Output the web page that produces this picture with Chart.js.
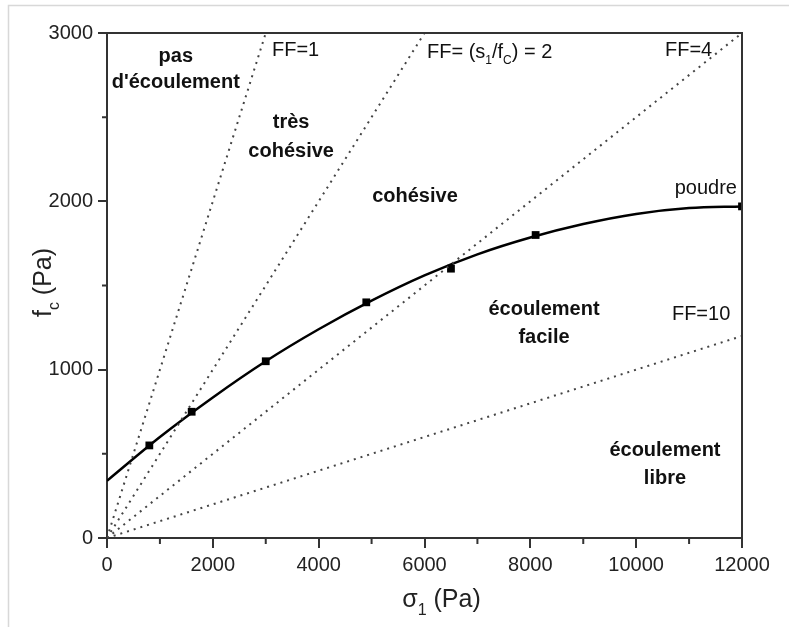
<!DOCTYPE html>
<html>
<head>
<meta charset="utf-8">
<script src="https://cdn.jsdelivr.net/npm/chart.js@4/dist/chart.umd.min.js"></script>
<style>
  html, body { margin: 0; padding: 0; background: #fff; }
  #wrap { width: 789px; height: 627px; position: relative; }
</style>
</head>
<body>
<div id="wrap"><canvas id="c" width="789" height="627"></canvas></div>
<script>
// Measured points (sigma1, fc)
const sigma1 = [800, 1600, 3000, 4900, 6500, 8100, 12000];
const fcMeasured = [550, 750, 1050, 1400, 1600, 1800, 1970];
// Fitted curve
const fitSigma = [0, 1000, 2000, 3000, 4000, 5000, 6000, 7000, 8000, 9000, 10000, 11000, 12000];
const fitFc = [340, 600, 835, 1050, 1240, 1410, 1560, 1685, 1785, 1865, 1925, 1960, 1970];
// Flow-factor lines: start at origin, end points
const ffLabels = ['FF=1', 'FF=2', 'FF=4', 'FF=10'];
const ffEndSigma = [3000, 6000, 12000, 12000];
const ffEndFc = [3000, 3000, 3000, 1200];
// Axis ranges / ticks
const xTickStep = 2000, xMinorStep = 1000, xMax = 12000;
const yTickStep = 1000, yMinorStep = 500, yMax = 3000;

const FONT = '"Liberation Sans", Arial, Helvetica, sans-serif';

const datasets = [];
ffLabels.forEach((lab, i) => {
  datasets.push({
    label: lab,
    data: [{x: 0, y: 0}, {x: ffEndSigma[i], y: ffEndFc[i]}],
    showLine: true,
    borderColor: '#444',
    borderWidth: 2,
    borderDash: [2, 5],
    pointRadius: 0,
    fill: false
  });
});
datasets.push({
  label: 'fit',
  data: fitSigma.map((s, i) => ({x: s, y: fitFc[i]})),
  showLine: true,
  borderColor: '#000',
  borderWidth: 2.5,
  pointRadius: 0,
  cubicInterpolationMode: 'monotone',
  fill: false
});
datasets.push({
  label: 'mesures',
  data: sigma1.map((s, i) => ({x: s, y: fcMeasured[i]})),
  showLine: false,
  pointStyle: 'rect',
  pointRadius: 5.5,
  backgroundColor: '#000',
  borderColor: '#000',
  borderWidth: 0
});

// Text annotations anchored in data coordinates
const notes = [
  {lines: ['pas', "d'écoulement"], x: 1300, y: [2858, 2709], bold: true, align: 'center'},
  {lines: ['très', 'cohésive'], x: 3480, y: [2466, 2294], bold: true, align: 'center'},
  {lines: ['cohésive'], x: 5820, y: [2026], bold: true, align: 'center'},
  {lines: ['écoulement', 'facile'], x: 8258, y: [1355, 1194], bold: true, align: 'center'},
  {lines: ['écoulement', 'libre'], x: 10544, y: [517, 351], bold: true, align: 'center'},
  {lines: ['poudre'], x: 11905, y: [2074], bold: false, align: 'right'},
  {lines: ['FF=1'], x: 3118, y: [2894], bold: false, align: 'left'},
  {lines: ['FF=4'], x: 10544, y: [2894], bold: false, align: 'left'},
  {lines: ['FF=10'], x: 10676, y: [1325], bold: false, align: 'left'}
];

function drawRich(ctx, parts, x, yMid, size, align) {
  const subSize = Math.round(size * 0.62);
  let w = 0;
  parts.forEach(p => {
    ctx.font = (p.sub ? subSize : size) + 'px ' + FONT;
    p.w = ctx.measureText(p.t).width;
    w += p.w;
  });
  let cx = align === 'center' ? x - w / 2 : (align === 'right' ? x - w : x);
  const base = yMid + size * 0.36;
  ctx.textAlign = 'left';
  ctx.textBaseline = 'alphabetic';
  parts.forEach(p => {
    ctx.font = (p.sub ? subSize : size) + 'px ' + FONT;
    ctx.fillText(p.t, cx, p.sub ? base + size * 0.3 : base);
    cx += p.w;
  });
}

const extras = {
  id: 'extras',
  beforeDraw(chart) {
    const ctx = chart.ctx;
    ctx.save();
    ctx.fillStyle = '#fff';
    ctx.fillRect(0, 0, chart.width, chart.height);
    ctx.strokeStyle = '#d8d8d8';
    ctx.lineWidth = 1.5;
    ctx.beginPath();
    ctx.moveTo(8.5, chart.height);
    ctx.lineTo(8.5, 5.5);
    ctx.lineTo(chart.width, 5.5);
    ctx.stroke();
    ctx.restore();
  },
  afterDraw(chart) {
    const ctx = chart.ctx;
    const xs = chart.scales.x, ys = chart.scales.y;
    const a = chart.chartArea;
    ctx.save();
    // frame top and right
    ctx.strokeStyle = '#333';
    ctx.lineWidth = 2;
    ctx.beginPath();
    ctx.moveTo(a.left, a.top);
    ctx.lineTo(a.right, a.top);
    ctx.lineTo(a.right, a.bottom);
    ctx.stroke();
    // minor ticks
    ctx.beginPath();
    for (let v = xMinorStep; v < xMax; v += xTickStep) {
      const px = xs.getPixelForValue(v);
      ctx.moveTo(px, a.bottom);
      ctx.lineTo(px, a.bottom + 6);
    }
    for (let v = yMinorStep; v < yMax; v += yTickStep) {
      const py = ys.getPixelForValue(v);
      ctx.moveTo(a.left, py);
      ctx.lineTo(a.left - 5, py);
    }
    ctx.stroke();
    // annotations
    ctx.fillStyle = '#111';
    notes.forEach(n => {
      ctx.font = (n.bold ? 'bold ' : '') + '20px ' + FONT;
      ctx.textAlign = n.align;
      ctx.textBaseline = 'middle';
      const px = xs.getPixelForValue(n.x);
      n.lines.forEach((t, i) => {
        ctx.fillText(t, px, ys.getPixelForValue(n.y[i]));
      });
    });
    // FF=2 label with subscripts
    drawRich(ctx, [{t: 'FF= (s'}, {t: '1', sub: true}, {t: '/f'}, {t: 'C', sub: true}, {t: ') = 2'}],
      xs.getPixelForValue(6047), ys.getPixelForValue(2894), 20, 'left');
    // axis titles
    ctx.fillStyle = '#222';
    drawRich(ctx, [{t: 'σ'}, {t: '1', sub: true}, {t: ' (Pa)'}], (a.left + a.right) / 2 + 17, 598, 25, 'center');
    ctx.save();
    ctx.translate(42, (a.top + a.bottom) / 2 - 3);
    ctx.rotate(-Math.PI / 2);
    drawRich(ctx, [{t: 'f'}, {t: 'c', sub: true}, {t: ' (Pa)'}], 0, 0, 25, 'center');
    ctx.restore();
    ctx.restore();
  }
};

new Chart(document.getElementById('c'), {
  type: 'scatter',
  data: { datasets },
  options: {
    responsive: false,
    animation: false,
    events: [],
    layout: { padding: { top: 33, right: 47, left: 0, bottom: 0 } },
    plugins: { legend: { display: false }, tooltip: { enabled: false } },
    scales: {
      x: {
        type: 'linear', min: 0, max: xMax,
        ticks: { stepSize: xTickStep, color: '#222', font: { family: FONT, size: 20 }, padding: 5, maxRotation: 0,
                 callback: v => String(v) },
        grid: { display: true, drawOnChartArea: false, drawTicks: true, tickLength: 10, color: '#333', lineWidth: 2 },
        border: { display: true, color: '#333', width: 2 },
        afterFit(s) { s.height = 89; }
      },
      y: {
        type: 'linear', min: 0, max: yMax,
        ticks: { stepSize: yTickStep, color: '#222', font: { family: FONT, size: 20 }, padding: 5,
                 callback: v => String(v) },
        grid: { display: true, drawOnChartArea: false, drawTicks: true, tickLength: 9, color: '#333', lineWidth: 2 },
        border: { display: true, color: '#333', width: 2 },
        afterFit(s) { s.width = 107; }
      }
    }
  },
  plugins: [extras]
});
</script>
</body>
</html>
